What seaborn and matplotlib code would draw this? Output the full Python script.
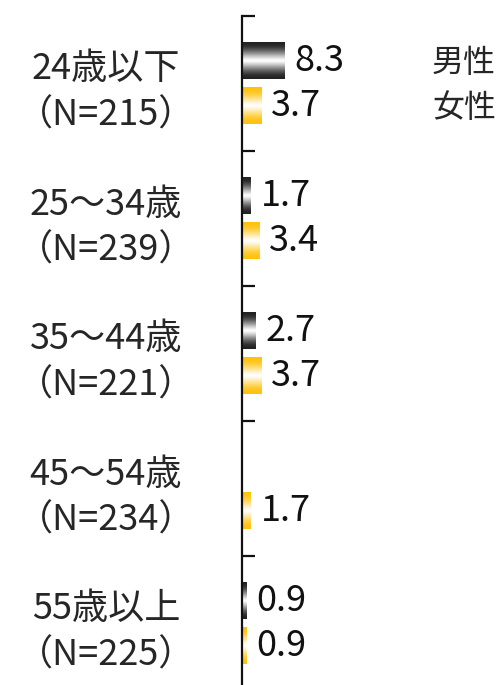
import numpy as np
import pandas as pd
import matplotlib.pyplot as plt
import seaborn as sns
from matplotlib.colors import LinearSegmentedColormap


groups = ['24歳以下\n（N=215）', '25～34歳\n（N=239）', '35～44歳\n（N=221）',
          '45～54歳\n（N=234）', '55歳以上\n（N=225）']
series = ['男性', '女性']
male = [8.3, 1.7, 2.7, 0.0, 0.9]
female = [3.7, 3.4, 3.7, 1.7, 0.9]

df = pd.DataFrame({
    'group': groups * 2,
    'sex': [series[0]] * len(male) + [series[1]] * len(female),
    'value': male + female,
})

sns.set_theme(style='white')
plt.rcParams['font.family'] = ['Noto Sans CJK JP', 'DejaVu Sans']

fig = plt.figure(figsize=(5.01, 6.85), dpi=100)
ax = fig.add_axes([242 / 501, -6 / 685, 259 / 501, 675 / 685])

sns.barplot(data=df, y='group', x='value', hue='sex', hue_order=series,
            orient='h', width=0.66, gap=0.18, ax=ax, legend=True)

# vertical gradient fill: colour at top/bottom edges, white in the middle
t = np.linspace(0, 1, 64)
prof = np.abs(np.cos(np.pi * t))[:, None] ** 1.3
cmaps = [LinearSegmentedColormap.from_list('m', ['white', '#222222']),
         LinearSegmentedColormap.from_list('f', ['white', '#FFC20E'])]
for cont, cmap in zip(ax.containers, cmaps):
    for bar in cont:
        bar.set_facecolor('none')
        bar.set_edgecolor('none')
        w = bar.get_width()
        if w <= 0:
            continue
        x0, y0, h = bar.get_x(), bar.get_y(), bar.get_height()
        ax.imshow(prof, extent=[x0, x0 + w, y0 + h, y0], aspect='auto',
                  cmap=cmap, vmin=0, vmax=1, zorder=2, interpolation='bilinear')
    labels = [f'{v:.1f}' if v > 0 else '' for v in cont.datavalues]
    ax.bar_label(cont, labels=labels, padding=7, fontsize=26, color='#111111')

ax.set_xlim(0, 50)
ax.set_ylim(4.5, -0.5)
ax.set_xlabel('')
ax.set_ylabel('')
ax.set_xticks([])

for s in ['top', 'right', 'bottom']:
    ax.spines[s].set_visible(False)
ax.spines['left'].set_color('#111111')
ax.spines['left'].set_linewidth(1.6)

ax.set_yticks(range(len(groups)))
ax.set_yticklabels(groups, fontsize=26)
ax.tick_params(axis='y', which='major', length=0, pad=98)
for lab in ax.get_yticklabels():
    lab.set_ha('center')
    lab.set_multialignment('center')
    lab.set_linespacing(1.35)
ax.set_yticks(np.arange(-0.5, len(groups), 1.0), minor=True)
ax.tick_params(axis='y', which='minor', direction='in', length=9, width=1.6,
               color='#111111', left=True)

leg = ax.legend(frameon=False, handlelength=0, handletextpad=0, fontsize=23,
                loc='upper left', bbox_to_anchor=(432 / 501, 1 - 47 / 685),
                bbox_transform=fig.transFigure, borderpad=0, borderaxespad=0,
                labelspacing=0.42)
for h in leg.legend_handles:
    h.set_visible(False)

fig.savefig('out.png', dpi=100)
